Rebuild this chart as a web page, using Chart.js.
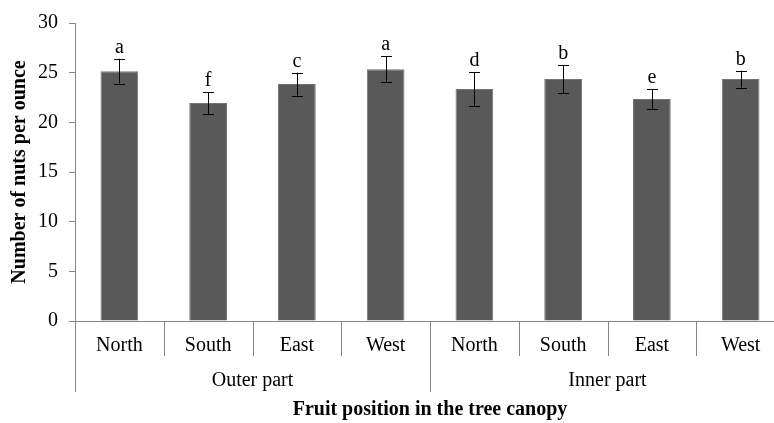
<!DOCTYPE html>
<html>
<head>
<meta charset="utf-8">
<script src="https://cdn.jsdelivr.net/npm/chart.js@4.4.1/dist/chart.umd.min.js"></script>
<style>
  html, body { margin: 0; padding: 0; background: #ffffff; overflow: hidden; }
  #wrap { width: 786px; height: 423px; position: relative; }
</style>
</head>
<body>
<div id="wrap"><canvas id="c"></canvas></div>
<script>
// ---- data ----
const positions = ["North", "South", "East", "West", "North", "South", "East", "West"];
const groups = ["Outer part", "Inner part"];
const groupSize = [4, 4];
const nutsPerOunce = [25.15, 21.95, 23.85, 25.35, 23.35, 24.35, 22.35, 24.35];
const errors = [1.25, 1.1, 1.15, 1.3, 1.7, 1.4, 1.0, 0.85];
const letters = ["a", "f", "c", "a", "d", "b", "e", "b"];
const yTicks = [0, 5, 10, 15, 20, 25, 30];

const FONT = "'Liberation Serif', 'Times New Roman', serif";
const AXIS_GRAY = '#868686';

const errorBarPlugin = {
  id: 'errorBars',
  afterDatasetsDraw(chart) {
    const ctx = chart.ctx;
    const meta = chart.getDatasetMeta(0);
    const y = chart.scales.y;
    ctx.save();
    ctx.strokeStyle = '#000000';
    ctx.lineWidth = 1;
    ctx.fillStyle = '#000000';
    ctx.font = "20px " + FONT;
    ctx.textAlign = 'center';
    ctx.textBaseline = 'alphabetic';
    meta.data.forEach((bar, i) => {
      const x = Math.round(bar.x) + 0.5;
      const top = y.getPixelForValue(nutsPerOunce[i] + errors[i]);
      const bot = y.getPixelForValue(nutsPerOunce[i] - errors[i]);
      ctx.beginPath();
      ctx.moveTo(x, top);
      ctx.lineTo(x, bot);
      ctx.moveTo(x - 5.5, Math.round(top) + 0.5);
      ctx.lineTo(x + 5.5, Math.round(top) + 0.5);
      ctx.moveTo(x - 5.5, Math.round(bot) + 0.5);
      ctx.lineTo(x + 5.5, Math.round(bot) + 0.5);
      ctx.stroke();
      ctx.fillText(letters[i], bar.x, top - 6);
    });
    ctx.restore();
  }
};

// category dividers and group labels, positioned from the x scale
const groupAxisPlugin = {
  id: 'groupAxis',
  afterDraw(chart) {
    const ctx = chart.ctx;
    const xs = chart.scales.x;
    const y0 = chart.chartArea.bottom;
    const half = (xs.getPixelForValue(1) - xs.getPixelForValue(0)) / 2;
    const edge = i => xs.getPixelForValue(i) - half; // left edge of category i
    const groupEdges = [0];
    groupSize.forEach(n => groupEdges.push(groupEdges[groupEdges.length - 1] + n));
    ctx.save();
    ctx.strokeStyle = AXIS_GRAY;
    ctx.lineWidth = 1;
    ctx.beginPath();
    for (let i = 0; i <= positions.length; i++) {
      const x = Math.round(edge(i)) + 0.5;
      const long = groupEdges.includes(i);
      ctx.moveTo(x, y0);
      ctx.lineTo(x, y0 + (long ? 71 : 35));
    }
    ctx.stroke();
    ctx.fillStyle = '#000000';
    ctx.font = "20px " + FONT;
    ctx.textAlign = 'center';
    ctx.textBaseline = 'middle';
    groups.forEach((g, k) => {
      const cx = (edge(groupEdges[k]) + edge(groupEdges[k + 1])) / 2;
      ctx.fillText(g, cx, y0 + 60);
    });
    ctx.restore();
  }
};

new Chart(document.getElementById('c'), {
  type: 'bar',
  data: {
    labels: positions,
    datasets: [{
      data: nutsPerOunce,
      backgroundColor: '#595959',
      borderColor: '#737373',
      borderWidth: 1,
      barPercentage: 0.85,
      categoryPercentage: 0.5
    }]
  },
  options: {
    responsive: true,
    maintainAspectRatio: false,
    animation: false,
    devicePixelRatio: 1,
    layout: { padding: { top: 14, right: 1, left: 0, bottom: 0 } },
    plugins: { legend: { display: false }, tooltip: { enabled: false } },
    scales: {
      y: {
        min: 0, max: 30,
        afterBuildTicks(scale) { scale.ticks = yTicks.map(v => ({ value: v })); },
        afterFit(scale) { scale.width = 75; },
        ticks: { color: '#000000', font: { family: FONT, size: 20 }, padding: 11 },
        grid: { drawOnChartArea: false, tickLength: 6, color: AXIS_GRAY },
        border: { color: AXIS_GRAY },
        title: {
          display: true, text: 'Number of nuts per ounce', color: '#000000',
          font: { family: FONT, size: 20, weight: 'bold' }, padding: { top: 8, bottom: 0 }
        }
      },
      x: {
        type: 'category',
        offset: true,
        ticks: { color: '#000000', font: { family: FONT, size: 20 }, padding: 13, maxRotation: 0, autoSkip: false },
        grid: { display: true, drawOnChartArea: false, drawTicks: false, color: AXIS_GRAY },
        border: { color: AXIS_GRAY },
        title: {
          display: true, text: 'Fruit position in the tree canopy', color: '#000000',
          font: { family: FONT, size: 20, weight: 'bold' }, padding: { top: 27, bottom: 1 }
        }
      }
    }
  },
  plugins: [errorBarPlugin, groupAxisPlugin]
});
</script>
</body>
</html>
